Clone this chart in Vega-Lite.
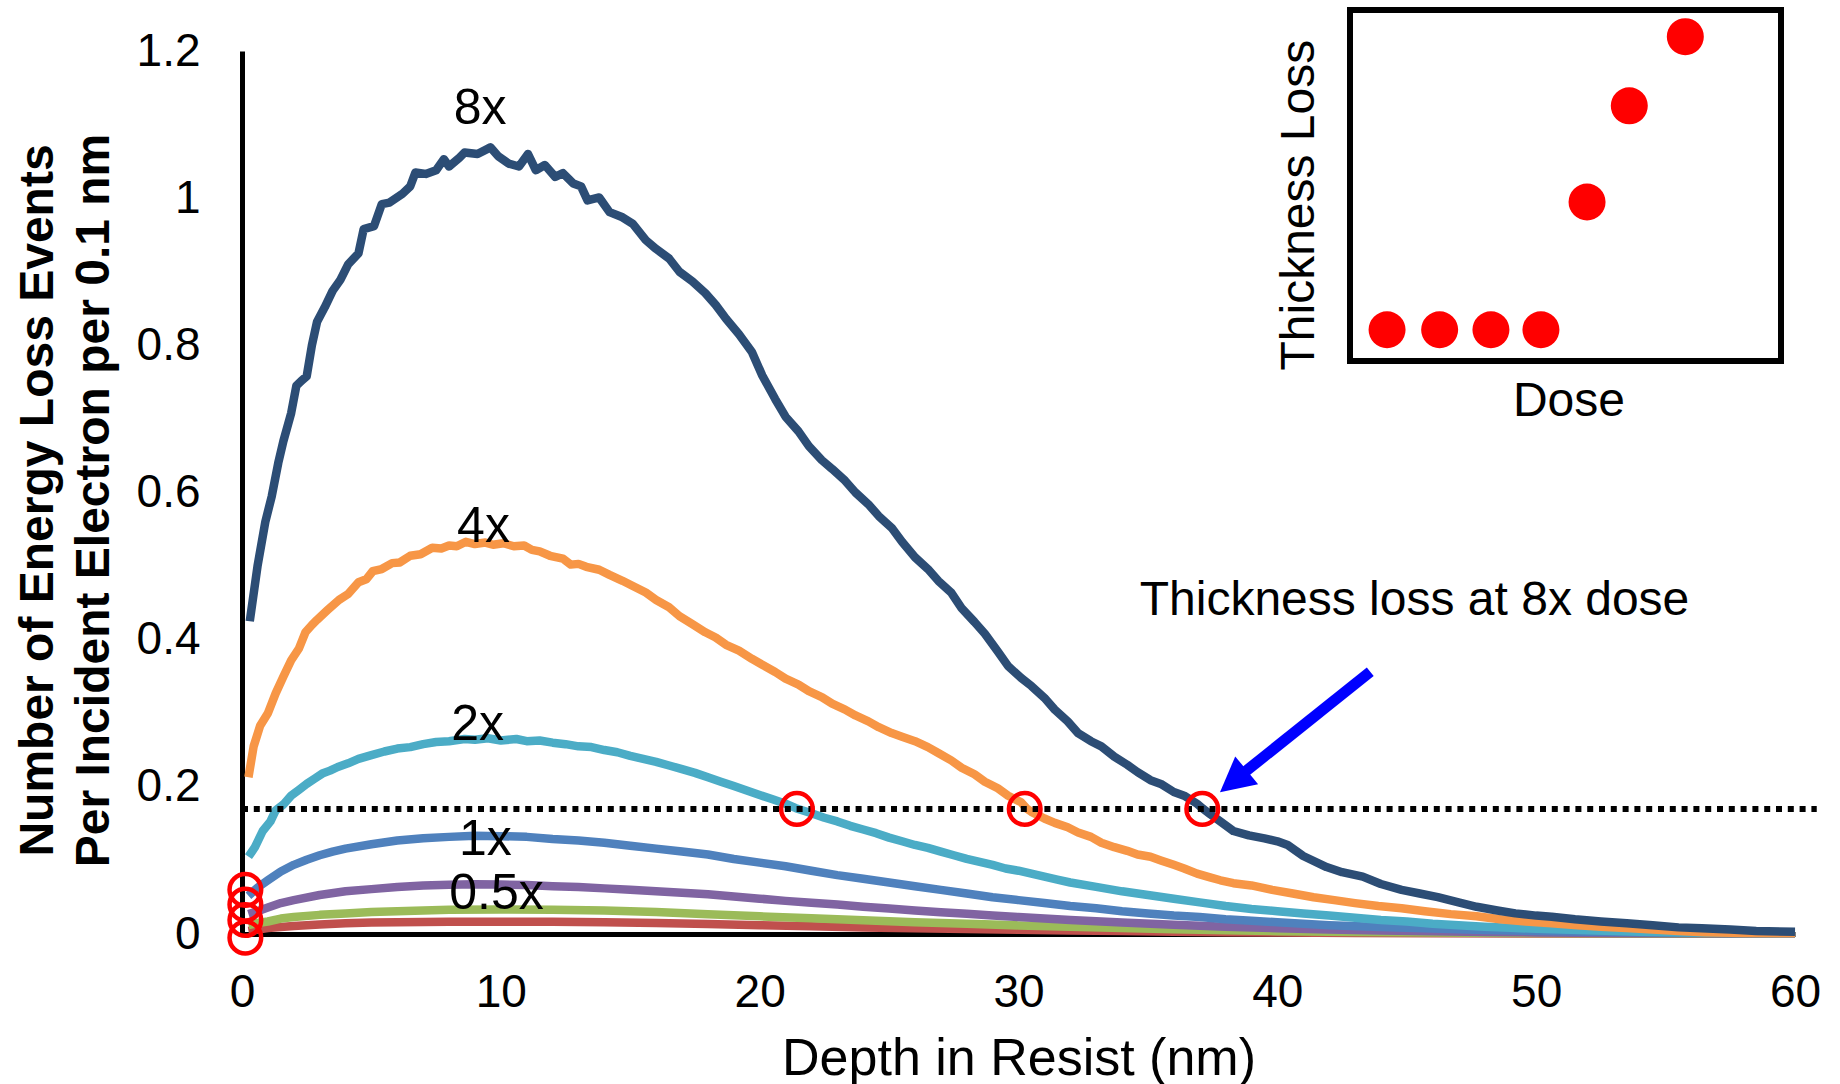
{
  "$schema": "https://vega.github.io/schema/vega-lite/v6.json",
  "width": 1553,
  "height": 883,
  "autosize": {"type": "none"},
  "padding": {"left": 242, "top": 51, "right": 45, "bottom": 150},
  "background": "#ffffff",
  "config": {"view": {"stroke": null}, "font": "Liberation Sans"},
  "datasets": {
    "curves": [
      {"series": "0.125x", "depth": 0.25, "events": 0.004}, {"series": "0.125x", "depth": 0.6, "events": 0.006}, {"series": "0.125x", "depth": 1, "events": 0.008}, {"series": "0.125x", "depth": 1.5, "events": 0.0095}, {"series": "0.125x", "depth": 2, "events": 0.011}, {"series": "0.125x", "depth": 3, "events": 0.013}, {"series": "0.125x", "depth": 4, "events": 0.0145}, {"series": "0.125x", "depth": 5, "events": 0.0155}, {"series": "0.125x", "depth": 6, "events": 0.016}, {"series": "0.125x", "depth": 8, "events": 0.0166}, {"series": "0.125x", "depth": 10, "events": 0.0167}, {"series": "0.125x", "depth": 12, "events": 0.0166}, {"series": "0.125x", "depth": 14, "events": 0.016}, {"series": "0.125x", "depth": 16, "events": 0.0148}, {"series": "0.125x", "depth": 18, "events": 0.0135}, {"series": "0.125x", "depth": 20, "events": 0.012}, {"series": "0.125x", "depth": 22, "events": 0.0105}, {"series": "0.125x", "depth": 24, "events": 0.009}, {"series": "0.125x", "depth": 26, "events": 0.0079}, {"series": "0.125x", "depth": 28, "events": 0.0068}, {"series": "0.125x", "depth": 30, "events": 0.0058}, {"series": "0.125x", "depth": 32, "events": 0.0048}, {"series": "0.125x", "depth": 34, "events": 0.004}, {"series": "0.125x", "depth": 36, "events": 0.0032}, {"series": "0.125x", "depth": 38, "events": 0.0025}, {"series": "0.125x", "depth": 40, "events": 0.0019}, {"series": "0.125x", "depth": 43, "events": 0.0014}, {"series": "0.125x", "depth": 46, "events": 0.001}, {"series": "0.125x", "depth": 50, "events": 0.0006}, {"series": "0.125x", "depth": 55, "events": 0.0003}, {"series": "0.125x", "depth": 60, "events": 0.0002},

      {"series": "0.25x", "depth": 0.25, "events": 0.012}, {"series": "0.25x", "depth": 0.6, "events": 0.015}, {"series": "0.25x", "depth": 1, "events": 0.017}, {"series": "0.25x", "depth": 1.5, "events": 0.021}, {"series": "0.25x", "depth": 2, "events": 0.023}, {"series": "0.25x", "depth": 3, "events": 0.026}, {"series": "0.25x", "depth": 4, "events": 0.028}, {"series": "0.25x", "depth": 5, "events": 0.03}, {"series": "0.25x", "depth": 6, "events": 0.031}, {"series": "0.25x", "depth": 8, "events": 0.033}, {"series": "0.25x", "depth": 10, "events": 0.0333}, {"series": "0.25x", "depth": 12, "events": 0.0328}, {"series": "0.25x", "depth": 14, "events": 0.032}, {"series": "0.25x", "depth": 16, "events": 0.03}, {"series": "0.25x", "depth": 18, "events": 0.027}, {"series": "0.25x", "depth": 20, "events": 0.024}, {"series": "0.25x", "depth": 22, "events": 0.0213}, {"series": "0.25x", "depth": 24, "events": 0.0186}, {"series": "0.25x", "depth": 26, "events": 0.016}, {"series": "0.25x", "depth": 28, "events": 0.0138}, {"series": "0.25x", "depth": 30, "events": 0.0117}, {"series": "0.25x", "depth": 32, "events": 0.0097}, {"series": "0.25x", "depth": 34, "events": 0.008}, {"series": "0.25x", "depth": 36, "events": 0.0064}, {"series": "0.25x", "depth": 38, "events": 0.005}, {"series": "0.25x", "depth": 40, "events": 0.0039}, {"series": "0.25x", "depth": 43, "events": 0.0028}, {"series": "0.25x", "depth": 46, "events": 0.002}, {"series": "0.25x", "depth": 50, "events": 0.0012}, {"series": "0.25x", "depth": 55, "events": 0.0006}, {"series": "0.25x", "depth": 60, "events": 0.0003},

      {"series": "0.5x", "depth": 0.25, "events": 0.027}, {"series": "0.5x", "depth": 0.6, "events": 0.031}, {"series": "0.5x", "depth": 1, "events": 0.036}, {"series": "0.5x", "depth": 1.5, "events": 0.042}, {"series": "0.5x", "depth": 2, "events": 0.046}, {"series": "0.5x", "depth": 3, "events": 0.053}, {"series": "0.5x", "depth": 4, "events": 0.058}, {"series": "0.5x", "depth": 5, "events": 0.061}, {"series": "0.5x", "depth": 6, "events": 0.064}, {"series": "0.5x", "depth": 7, "events": 0.066}, {"series": "0.5x", "depth": 8, "events": 0.067}, {"series": "0.5x", "depth": 9, "events": 0.0675}, {"series": "0.5x", "depth": 10, "events": 0.0672}, {"series": "0.5x", "depth": 11, "events": 0.0665}, {"series": "0.5x", "depth": 12, "events": 0.065}, {"series": "0.5x", "depth": 13, "events": 0.064}, {"series": "0.5x", "depth": 14, "events": 0.062}, {"series": "0.5x", "depth": 15, "events": 0.06}, {"series": "0.5x", "depth": 16, "events": 0.058}, {"series": "0.5x", "depth": 17, "events": 0.056}, {"series": "0.5x", "depth": 18, "events": 0.054}, {"series": "0.5x", "depth": 19, "events": 0.051}, {"series": "0.5x", "depth": 20, "events": 0.048}, {"series": "0.5x", "depth": 21, "events": 0.045}, {"series": "0.5x", "depth": 22, "events": 0.0425}, {"series": "0.5x", "depth": 23, "events": 0.04}, {"series": "0.5x", "depth": 24, "events": 0.037}, {"series": "0.5x", "depth": 25, "events": 0.0345}, {"series": "0.5x", "depth": 26, "events": 0.032}, {"series": "0.5x", "depth": 27, "events": 0.0295}, {"series": "0.5x", "depth": 28, "events": 0.0275}, {"series": "0.5x", "depth": 29, "events": 0.025}, {"series": "0.5x", "depth": 30, "events": 0.023}, {"series": "0.5x", "depth": 32, "events": 0.019}, {"series": "0.5x", "depth": 34, "events": 0.0155}, {"series": "0.5x", "depth": 36, "events": 0.0125}, {"series": "0.5x", "depth": 38, "events": 0.0097}, {"series": "0.5x", "depth": 40, "events": 0.0078}, {"series": "0.5x", "depth": 42, "events": 0.006}, {"series": "0.5x", "depth": 44, "events": 0.0047}, {"series": "0.5x", "depth": 46, "events": 0.0037}, {"series": "0.5x", "depth": 48, "events": 0.0028}, {"series": "0.5x", "depth": 50, "events": 0.0021}, {"series": "0.5x", "depth": 53, "events": 0.0014}, {"series": "0.5x", "depth": 56, "events": 0.0009}, {"series": "0.5x", "depth": 60, "events": 0.0005},

      {"series": "1x", "depth": 0.25, "events": 0.052}, {"series": "1x", "depth": 0.6, "events": 0.063}, {"series": "1x", "depth": 1, "events": 0.073}, {"series": "1x", "depth": 1.5, "events": 0.085}, {"series": "1x", "depth": 2, "events": 0.094}, {"series": "1x", "depth": 2.5, "events": 0.101}, {"series": "1x", "depth": 3, "events": 0.107}, {"series": "1x", "depth": 3.5, "events": 0.112}, {"series": "1x", "depth": 4, "events": 0.116}, {"series": "1x", "depth": 5, "events": 0.122}, {"series": "1x", "depth": 6, "events": 0.127}, {"series": "1x", "depth": 7, "events": 0.13}, {"series": "1x", "depth": 8, "events": 0.132}, {"series": "1x", "depth": 9, "events": 0.1335}, {"series": "1x", "depth": 10, "events": 0.133}, {"series": "1x", "depth": 11, "events": 0.132}, {"series": "1x", "depth": 12, "events": 0.129}, {"series": "1x", "depth": 13, "events": 0.127}, {"series": "1x", "depth": 14, "events": 0.124}, {"series": "1x", "depth": 15, "events": 0.12}, {"series": "1x", "depth": 16, "events": 0.116}, {"series": "1x", "depth": 17, "events": 0.112}, {"series": "1x", "depth": 18, "events": 0.108}, {"series": "1x", "depth": 19, "events": 0.102}, {"series": "1x", "depth": 20, "events": 0.097}, {"series": "1x", "depth": 21, "events": 0.092}, {"series": "1x", "depth": 22, "events": 0.086}, {"series": "1x", "depth": 23, "events": 0.08}, {"series": "1x", "depth": 24, "events": 0.075}, {"series": "1x", "depth": 25, "events": 0.07}, {"series": "1x", "depth": 26, "events": 0.065}, {"series": "1x", "depth": 27, "events": 0.06}, {"series": "1x", "depth": 28, "events": 0.055}, {"series": "1x", "depth": 29, "events": 0.05}, {"series": "1x", "depth": 30, "events": 0.046}, {"series": "1x", "depth": 31, "events": 0.042}, {"series": "1x", "depth": 32, "events": 0.038}, {"series": "1x", "depth": 33, "events": 0.035}, {"series": "1x", "depth": 34, "events": 0.031}, {"series": "1x", "depth": 35, "events": 0.028}, {"series": "1x", "depth": 36, "events": 0.025}, {"series": "1x", "depth": 37, "events": 0.023}, {"series": "1x", "depth": 38, "events": 0.02}, {"series": "1x", "depth": 39, "events": 0.018}, {"series": "1x", "depth": 40, "events": 0.016}, {"series": "1x", "depth": 42, "events": 0.012}, {"series": "1x", "depth": 44, "events": 0.0095}, {"series": "1x", "depth": 46, "events": 0.0075}, {"series": "1x", "depth": 48, "events": 0.0055}, {"series": "1x", "depth": 50, "events": 0.0042}, {"series": "1x", "depth": 52, "events": 0.003}, {"series": "1x", "depth": 55, "events": 0.002}, {"series": "1x", "depth": 58, "events": 0.0012}, {"series": "1x", "depth": 60, "events": 0.001},

      {"series": "2x", "depth": 0.25, "events": 0.105}, {"series": "2x", "depth": 0.5, "events": 0.118}, {"series": "2x", "depth": 0.8, "events": 0.14}, {"series": "2x", "depth": 1.1, "events": 0.153}, {"series": "2x", "depth": 1.3, "events": 0.168}, {"series": "2x", "depth": 1.6, "events": 0.176}, {"series": "2x", "depth": 1.9, "events": 0.188}, {"series": "2x", "depth": 2.2, "events": 0.196}, {"series": "2x", "depth": 2.5, "events": 0.204}, {"series": "2x", "depth": 2.8, "events": 0.211}, {"series": "2x", "depth": 3.1, "events": 0.218}, {"series": "2x", "depth": 3.4, "events": 0.222}, {"series": "2x", "depth": 3.7, "events": 0.227}, {"series": "2x", "depth": 4.1, "events": 0.232}, {"series": "2x", "depth": 4.5, "events": 0.238}, {"series": "2x", "depth": 5, "events": 0.243}, {"series": "2x", "depth": 5.5, "events": 0.248}, {"series": "2x", "depth": 6, "events": 0.252}, {"series": "2x", "depth": 6.5, "events": 0.254}, {"series": "2x", "depth": 7, "events": 0.258}, {"series": "2x", "depth": 7.5, "events": 0.261}, {"series": "2x", "depth": 8, "events": 0.262}, {"series": "2x", "depth": 8.6, "events": 0.265}, {"series": "2x", "depth": 9, "events": 0.264}, {"series": "2x", "depth": 9.5, "events": 0.266}, {"series": "2x", "depth": 10, "events": 0.263}, {"series": "2x", "depth": 10.6, "events": 0.265}, {"series": "2x", "depth": 11, "events": 0.262}, {"series": "2x", "depth": 11.5, "events": 0.263}, {"series": "2x", "depth": 12, "events": 0.26}, {"series": "2x", "depth": 12.5, "events": 0.258}, {"series": "2x", "depth": 13, "events": 0.255}, {"series": "2x", "depth": 13.5, "events": 0.254}, {"series": "2x", "depth": 14, "events": 0.25}, {"series": "2x", "depth": 14.5, "events": 0.247}, {"series": "2x", "depth": 15, "events": 0.242}, {"series": "2x", "depth": 15.5, "events": 0.238}, {"series": "2x", "depth": 16, "events": 0.234}, {"series": "2x", "depth": 16.5, "events": 0.229}, {"series": "2x", "depth": 17, "events": 0.224}, {"series": "2x", "depth": 17.5, "events": 0.219}, {"series": "2x", "depth": 18, "events": 0.213}, {"series": "2x", "depth": 18.5, "events": 0.207}, {"series": "2x", "depth": 19, "events": 0.201}, {"series": "2x", "depth": 19.5, "events": 0.195}, {"series": "2x", "depth": 20, "events": 0.189}, {"series": "2x", "depth": 20.5, "events": 0.183}, {"series": "2x", "depth": 21, "events": 0.177}, {"series": "2x", "depth": 21.4, "events": 0.171}, {"series": "2x", "depth": 22, "events": 0.164}, {"series": "2x", "depth": 22.5, "events": 0.158}, {"series": "2x", "depth": 23, "events": 0.153}, {"series": "2x", "depth": 23.5, "events": 0.147}, {"series": "2x", "depth": 24, "events": 0.142}, {"series": "2x", "depth": 24.5, "events": 0.137}, {"series": "2x", "depth": 25, "events": 0.131}, {"series": "2x", "depth": 25.5, "events": 0.126}, {"series": "2x", "depth": 26, "events": 0.121}, {"series": "2x", "depth": 26.5, "events": 0.117}, {"series": "2x", "depth": 27, "events": 0.112}, {"series": "2x", "depth": 27.5, "events": 0.107}, {"series": "2x", "depth": 28, "events": 0.102}, {"series": "2x", "depth": 28.5, "events": 0.098}, {"series": "2x", "depth": 29, "events": 0.094}, {"series": "2x", "depth": 29.5, "events": 0.089}, {"series": "2x", "depth": 30, "events": 0.086}, {"series": "2x", "depth": 30.5, "events": 0.082}, {"series": "2x", "depth": 31, "events": 0.078}, {"series": "2x", "depth": 31.5, "events": 0.074}, {"series": "2x", "depth": 32, "events": 0.07}, {"series": "2x", "depth": 33, "events": 0.064}, {"series": "2x", "depth": 34, "events": 0.058}, {"series": "2x", "depth": 35, "events": 0.053}, {"series": "2x", "depth": 36, "events": 0.048}, {"series": "2x", "depth": 37, "events": 0.043}, {"series": "2x", "depth": 38, "events": 0.038}, {"series": "2x", "depth": 39, "events": 0.034}, {"series": "2x", "depth": 40, "events": 0.031}, {"series": "2x", "depth": 41, "events": 0.028}, {"series": "2x", "depth": 42, "events": 0.025}, {"series": "2x", "depth": 43, "events": 0.022}, {"series": "2x", "depth": 44, "events": 0.019}, {"series": "2x", "depth": 45, "events": 0.017}, {"series": "2x", "depth": 46, "events": 0.014}, {"series": "2x", "depth": 47, "events": 0.012}, {"series": "2x", "depth": 48, "events": 0.01}, {"series": "2x", "depth": 49, "events": 0.0085}, {"series": "2x", "depth": 50, "events": 0.007}, {"series": "2x", "depth": 52, "events": 0.005}, {"series": "2x", "depth": 54, "events": 0.003}, {"series": "2x", "depth": 56, "events": 0.002}, {"series": "2x", "depth": 58, "events": 0.0013}, {"series": "2x", "depth": 60, "events": 0.001},

      {"series": "4x", "depth": 0.25, "events": 0.213}, {"series": "4x", "depth": 0.45, "events": 0.255}, {"series": "4x", "depth": 0.7, "events": 0.283}, {"series": "4x", "depth": 1, "events": 0.3}, {"series": "4x", "depth": 1.3, "events": 0.327}, {"series": "4x", "depth": 1.6, "events": 0.35}, {"series": "4x", "depth": 1.9, "events": 0.372}, {"series": "4x", "depth": 2.2, "events": 0.388}, {"series": "4x", "depth": 2.45, "events": 0.41}, {"series": "4x", "depth": 2.7, "events": 0.42}, {"series": "4x", "depth": 2.9, "events": 0.427}, {"series": "4x", "depth": 3.3, "events": 0.44}, {"series": "4x", "depth": 3.75, "events": 0.454}, {"series": "4x", "depth": 4.1, "events": 0.462}, {"series": "4x", "depth": 4.5, "events": 0.478}, {"series": "4x", "depth": 4.8, "events": 0.482}, {"series": "4x", "depth": 5.05, "events": 0.493}, {"series": "4x", "depth": 5.4, "events": 0.496}, {"series": "4x", "depth": 5.8, "events": 0.504}, {"series": "4x", "depth": 6.1, "events": 0.505}, {"series": "4x", "depth": 6.5, "events": 0.514}, {"series": "4x", "depth": 6.9, "events": 0.516}, {"series": "4x", "depth": 7.35, "events": 0.525}, {"series": "4x", "depth": 7.7, "events": 0.524}, {"series": "4x", "depth": 8, "events": 0.528}, {"series": "4x", "depth": 8.3, "events": 0.527}, {"series": "4x", "depth": 8.65, "events": 0.533}, {"series": "4x", "depth": 9, "events": 0.53}, {"series": "4x", "depth": 9.4, "events": 0.532}, {"series": "4x", "depth": 9.7, "events": 0.529}, {"series": "4x", "depth": 10.1, "events": 0.531}, {"series": "4x", "depth": 10.5, "events": 0.527}, {"series": "4x", "depth": 10.9, "events": 0.528}, {"series": "4x", "depth": 11.2, "events": 0.522}, {"series": "4x", "depth": 11.5, "events": 0.52}, {"series": "4x", "depth": 11.9, "events": 0.514}, {"series": "4x", "depth": 12.4, "events": 0.51}, {"series": "4x", "depth": 12.7, "events": 0.502}, {"series": "4x", "depth": 13, "events": 0.503}, {"series": "4x", "depth": 13.3, "events": 0.499}, {"series": "4x", "depth": 13.8, "events": 0.495}, {"series": "4x", "depth": 14.2, "events": 0.488}, {"series": "4x", "depth": 14.7, "events": 0.48}, {"series": "4x", "depth": 15.1, "events": 0.473}, {"series": "4x", "depth": 15.6, "events": 0.464}, {"series": "4x", "depth": 16, "events": 0.454}, {"series": "4x", "depth": 16.5, "events": 0.444}, {"series": "4x", "depth": 16.9, "events": 0.432}, {"series": "4x", "depth": 17.4, "events": 0.421}, {"series": "4x", "depth": 17.9, "events": 0.41}, {"series": "4x", "depth": 18.3, "events": 0.403}, {"series": "4x", "depth": 18.7, "events": 0.393}, {"series": "4x", "depth": 19.2, "events": 0.385}, {"series": "4x", "depth": 19.7, "events": 0.374}, {"series": "4x", "depth": 20.1, "events": 0.366}, {"series": "4x", "depth": 20.6, "events": 0.356}, {"series": "4x", "depth": 21, "events": 0.347}, {"series": "4x", "depth": 21.5, "events": 0.339}, {"series": "4x", "depth": 21.9, "events": 0.33}, {"series": "4x", "depth": 22.4, "events": 0.322}, {"series": "4x", "depth": 22.8, "events": 0.313}, {"series": "4x", "depth": 23.3, "events": 0.305}, {"series": "4x", "depth": 23.7, "events": 0.297}, {"series": "4x", "depth": 24.2, "events": 0.289}, {"series": "4x", "depth": 24.6, "events": 0.281}, {"series": "4x", "depth": 25.1, "events": 0.273}, {"series": "4x", "depth": 25.5, "events": 0.268}, {"series": "4x", "depth": 26, "events": 0.262}, {"series": "4x", "depth": 26.5, "events": 0.254}, {"series": "4x", "depth": 26.9, "events": 0.246}, {"series": "4x", "depth": 27.4, "events": 0.236}, {"series": "4x", "depth": 27.8, "events": 0.226}, {"series": "4x", "depth": 28.3, "events": 0.217}, {"series": "4x", "depth": 28.7, "events": 0.207}, {"series": "4x", "depth": 29.2, "events": 0.198}, {"series": "4x", "depth": 29.6, "events": 0.188}, {"series": "4x", "depth": 30.1, "events": 0.179}, {"series": "4x", "depth": 30.3, "events": 0.171}, {"series": "4x", "depth": 30.5, "events": 0.166}, {"series": "4x", "depth": 31, "events": 0.157}, {"series": "4x", "depth": 31.4, "events": 0.151}, {"series": "4x", "depth": 31.9, "events": 0.145}, {"series": "4x", "depth": 32.3, "events": 0.138}, {"series": "4x", "depth": 32.8, "events": 0.132}, {"series": "4x", "depth": 33.2, "events": 0.124}, {"series": "4x", "depth": 33.7, "events": 0.118}, {"series": "4x", "depth": 34.2, "events": 0.113}, {"series": "4x", "depth": 34.6, "events": 0.108}, {"series": "4x", "depth": 35.1, "events": 0.105}, {"series": "4x", "depth": 35.5, "events": 0.1}, {"series": "4x", "depth": 36, "events": 0.094}, {"series": "4x", "depth": 36.4, "events": 0.089}, {"series": "4x", "depth": 36.9, "events": 0.082}, {"series": "4x", "depth": 37.4, "events": 0.077}, {"series": "4x", "depth": 37.8, "events": 0.073}, {"series": "4x", "depth": 38.3, "events": 0.069}, {"series": "4x", "depth": 39, "events": 0.066}, {"series": "4x", "depth": 39.8, "events": 0.06}, {"series": "4x", "depth": 40.6, "events": 0.055}, {"series": "4x", "depth": 41.4, "events": 0.05}, {"series": "4x", "depth": 42.2, "events": 0.046}, {"series": "4x", "depth": 43, "events": 0.042}, {"series": "4x", "depth": 43.9, "events": 0.038}, {"series": "4x", "depth": 44.8, "events": 0.035}, {"series": "4x", "depth": 45.7, "events": 0.031}, {"series": "4x", "depth": 46.7, "events": 0.027}, {"series": "4x", "depth": 47.7, "events": 0.024}, {"series": "4x", "depth": 48.6, "events": 0.02}, {"series": "4x", "depth": 49.6, "events": 0.017}, {"series": "4x", "depth": 50.6, "events": 0.0145}, {"series": "4x", "depth": 51.6, "events": 0.012}, {"series": "4x", "depth": 52.5, "events": 0.01}, {"series": "4x", "depth": 53.5, "events": 0.008}, {"series": "4x", "depth": 54.5, "events": 0.006}, {"series": "4x", "depth": 55.5, "events": 0.004}, {"series": "4x", "depth": 56.5, "events": 0.0025}, {"series": "4x", "depth": 58, "events": 0.0015}, {"series": "4x", "depth": 60, "events": 0.001},

      {"series": "8x", "depth": 0.3, "events": 0.425}, {"series": "8x", "depth": 0.6, "events": 0.5}, {"series": "8x", "depth": 0.9, "events": 0.56}, {"series": "8x", "depth": 1.15, "events": 0.595}, {"series": "8x", "depth": 1.4, "events": 0.64}, {"series": "8x", "depth": 1.6, "events": 0.67}, {"series": "8x", "depth": 1.9, "events": 0.708}, {"series": "8x", "depth": 2.1, "events": 0.745}, {"series": "8x", "depth": 2.3, "events": 0.752}, {"series": "8x", "depth": 2.5, "events": 0.758}, {"series": "8x", "depth": 2.7, "events": 0.8}, {"series": "8x", "depth": 2.9, "events": 0.832}, {"series": "8x", "depth": 3.2, "events": 0.852}, {"series": "8x", "depth": 3.5, "events": 0.874}, {"series": "8x", "depth": 3.8, "events": 0.889}, {"series": "8x", "depth": 4.1, "events": 0.91}, {"series": "8x", "depth": 4.5, "events": 0.925}, {"series": "8x", "depth": 4.7, "events": 0.958}, {"series": "8x", "depth": 5.1, "events": 0.962}, {"series": "8x", "depth": 5.4, "events": 0.992}, {"series": "8x", "depth": 5.7, "events": 0.994}, {"series": "8x", "depth": 6.2, "events": 1.006}, {"series": "8x", "depth": 6.5, "events": 1.016}, {"series": "8x", "depth": 6.7, "events": 1.035}, {"series": "8x", "depth": 7.1, "events": 1.033}, {"series": "8x", "depth": 7.5, "events": 1.038}, {"series": "8x", "depth": 7.8, "events": 1.053}, {"series": "8x", "depth": 8, "events": 1.043}, {"series": "8x", "depth": 8.4, "events": 1.055}, {"series": "8x", "depth": 8.6, "events": 1.062}, {"series": "8x", "depth": 9.1, "events": 1.06}, {"series": "8x", "depth": 9.6, "events": 1.069}, {"series": "8x", "depth": 9.9, "events": 1.057}, {"series": "8x", "depth": 10.3, "events": 1.047}, {"series": "8x", "depth": 10.7, "events": 1.043}, {"series": "8x", "depth": 11.05, "events": 1.06}, {"series": "8x", "depth": 11.35, "events": 1.038}, {"series": "8x", "depth": 11.7, "events": 1.045}, {"series": "8x", "depth": 12.1, "events": 1.029}, {"series": "8x", "depth": 12.4, "events": 1.034}, {"series": "8x", "depth": 12.8, "events": 1.02}, {"series": "8x", "depth": 13.1, "events": 1.016}, {"series": "8x", "depth": 13.35, "events": 0.997}, {"series": "8x", "depth": 13.8, "events": 1.001}, {"series": "8x", "depth": 14.2, "events": 0.981}, {"series": "8x", "depth": 14.7, "events": 0.974}, {"series": "8x", "depth": 15.1, "events": 0.965}, {"series": "8x", "depth": 15.6, "events": 0.943}, {"series": "8x", "depth": 16, "events": 0.931}, {"series": "8x", "depth": 16.5, "events": 0.918}, {"series": "8x", "depth": 16.9, "events": 0.9}, {"series": "8x", "depth": 17.4, "events": 0.887}, {"series": "8x", "depth": 17.9, "events": 0.871}, {"series": "8x", "depth": 18.3, "events": 0.855}, {"series": "8x", "depth": 18.7, "events": 0.836}, {"series": "8x", "depth": 19.2, "events": 0.815}, {"series": "8x", "depth": 19.7, "events": 0.791}, {"series": "8x", "depth": 20.1, "events": 0.759}, {"series": "8x", "depth": 20.6, "events": 0.727}, {"series": "8x", "depth": 21, "events": 0.703}, {"series": "8x", "depth": 21.5, "events": 0.683}, {"series": "8x", "depth": 21.9, "events": 0.663}, {"series": "8x", "depth": 22.4, "events": 0.644}, {"series": "8x", "depth": 22.8, "events": 0.632}, {"series": "8x", "depth": 23.3, "events": 0.616}, {"series": "8x", "depth": 23.7, "events": 0.6}, {"series": "8x", "depth": 24.2, "events": 0.584}, {"series": "8x", "depth": 24.6, "events": 0.568}, {"series": "8x", "depth": 25.1, "events": 0.552}, {"series": "8x", "depth": 25.5, "events": 0.533}, {"series": "8x", "depth": 26, "events": 0.512}, {"series": "8x", "depth": 26.5, "events": 0.496}, {"series": "8x", "depth": 26.9, "events": 0.48}, {"series": "8x", "depth": 27.4, "events": 0.464}, {"series": "8x", "depth": 27.8, "events": 0.443}, {"series": "8x", "depth": 28.3, "events": 0.424}, {"series": "8x", "depth": 28.7, "events": 0.408}, {"series": "8x", "depth": 29.2, "events": 0.384}, {"series": "8x", "depth": 29.6, "events": 0.364}, {"series": "8x", "depth": 30.1, "events": 0.348}, {"series": "8x", "depth": 30.5, "events": 0.337}, {"series": "8x", "depth": 31, "events": 0.321}, {"series": "8x", "depth": 31.4, "events": 0.305}, {"series": "8x", "depth": 31.9, "events": 0.289}, {"series": "8x", "depth": 32.3, "events": 0.273}, {"series": "8x", "depth": 32.8, "events": 0.262}, {"series": "8x", "depth": 33.2, "events": 0.255}, {"series": "8x", "depth": 33.7, "events": 0.241}, {"series": "8x", "depth": 34.2, "events": 0.23}, {"series": "8x", "depth": 34.6, "events": 0.22}, {"series": "8x", "depth": 35.1, "events": 0.209}, {"series": "8x", "depth": 35.5, "events": 0.204}, {"series": "8x", "depth": 36, "events": 0.193}, {"series": "8x", "depth": 36.4, "events": 0.188}, {"series": "8x", "depth": 36.9, "events": 0.177}, {"series": "8x", "depth": 37.1, "events": 0.171}, {"series": "8x", "depth": 37.4, "events": 0.163}, {"series": "8x", "depth": 37.8, "events": 0.153}, {"series": "8x", "depth": 38.3, "events": 0.14}, {"series": "8x", "depth": 38.9, "events": 0.134}, {"series": "8x", "depth": 39.5, "events": 0.13}, {"series": "8x", "depth": 40, "events": 0.126}, {"series": "8x", "depth": 40.4, "events": 0.121}, {"series": "8x", "depth": 41, "events": 0.106}, {"series": "8x", "depth": 41.9, "events": 0.091}, {"series": "8x", "depth": 42.5, "events": 0.084}, {"series": "8x", "depth": 43.3, "events": 0.078}, {"series": "8x", "depth": 44, "events": 0.068}, {"series": "8x", "depth": 44.8, "events": 0.06}, {"series": "8x", "depth": 45.5, "events": 0.055}, {"series": "8x", "depth": 46.2, "events": 0.05}, {"series": "8x", "depth": 47, "events": 0.043}, {"series": "8x", "depth": 47.7, "events": 0.037}, {"series": "8x", "depth": 48.5, "events": 0.032}, {"series": "8x", "depth": 49.2, "events": 0.028}, {"series": "8x", "depth": 50, "events": 0.025}, {"series": "8x", "depth": 50.6, "events": 0.0235}, {"series": "8x", "depth": 51.5, "events": 0.02}, {"series": "8x", "depth": 52.5, "events": 0.017}, {"series": "8x", "depth": 53.5, "events": 0.0145}, {"series": "8x", "depth": 54.5, "events": 0.012}, {"series": "8x", "depth": 55.5, "events": 0.009}, {"series": "8x", "depth": 56.4, "events": 0.0077}, {"series": "8x", "depth": 57.5, "events": 0.006}, {"series": "8x", "depth": 58.5, "events": 0.004}, {"series": "8x", "depth": 60, "events": 0.003}
    ],
    "curveLabels": [
      {"series": "8x", "depth": 9.2, "events": 1.121},
      {"series": "4x", "depth": 9.33, "events": 0.553},
      {"series": "2x", "depth": 9.1, "events": 0.284},
      {"series": "1x", "depth": 9.4, "events": 0.128},
      {"series": "0.5x", "depth": 9.83, "events": 0.054}
    ],
    "markers": [
      {"depth": 0.13, "events": 0.06},
      {"depth": 0.13, "events": 0.04},
      {"depth": 0.13, "events": 0.019},
      {"depth": 0.13, "events": -0.005},
      {"depth": 21.44, "events": 0.17},
      {"depth": 30.24, "events": 0.17},
      {"depth": 37.1, "events": 0.17}
    ],
    "threshold": [{"events": 0.17}],
    "arrow": [{"depth": 43.59, "events": 0.3565, "depth_end": 38.55, "events_end": 0.2147}],
    "arrowHead": [{"depth": 38.3, "events": 0.2075}],
    "inset": [
      {"dose": 8.6, "thickness_loss": 8.9},
      {"dose": 20.8, "thickness_loss": 8.9},
      {"dose": 32.7, "thickness_loss": 8.9},
      {"dose": 44.3, "thickness_loss": 8.9},
      {"dose": 55.0, "thickness_loss": 45.3},
      {"dose": 64.8, "thickness_loss": 72.7},
      {"dose": 77.8, "thickness_loss": 92.4}
    ]
  },
  "layer": [
    {
      "data": {"name": "curves"},
      "mark": {"type": "line", "strokeWidth": 8.5, "strokeJoin": "round", "strokeCap": "butt"},
      "encoding": {
        "x": {
          "field": "depth", "type": "quantitative",
          "scale": {"domain": [0, 60], "nice": false, "zero": false},
          "axis": {
            "title": "Depth in Resist (nm)",
            "values": [0, 10, 20, 30, 40, 50, 60],
            "ticks": false, "grid": false,
            "domainColor": "#000000", "domainWidth": 5,
            "labelFont": "Liberation Sans", "labelFontSize": 46, "labelColor": "#000000",
            "labelPadding": 36, "labelFlush": false, "labelOverlap": false,
            "titleFont": "Liberation Sans", "titleFontSize": 52, "titleFontWeight": "normal", "titleColor": "#000000",
            "titleBaseline": "alphabetic", "titleX": 776.5, "titleY": 140
          }
        },
        "y": {
          "field": "events", "type": "quantitative",
          "scale": {"domain": [0, 1.2], "nice": false, "zero": false},
          "axis": {
            "title": ["Number of Energy Loss Events", "Per Incident Electron per 0.1 nm"],
            "values": [0, 0.2, 0.4, 0.6, 0.8, 1, 1.2],
            "format": "~g",
            "ticks": false, "grid": false,
            "domainColor": "#000000", "domainWidth": 5,
            "labelFont": "Liberation Sans", "labelFontSize": 46, "labelColor": "#000000",
            "labelPadding": 42, "labelFlush": false, "labelOverlap": false,
            "titleFont": "Liberation Sans", "titleFontSize": 48, "titleFontWeight": "bold", "titleColor": "#000000",
            "titleAngle": 270, "titleAlign": "center", "titleBaseline": "alphabetic",
            "titleLineHeight": 56.5, "titleX": -190, "titleY": 449
          }
        },
        "color": {
          "field": "series", "type": "nominal",
          "scale": {
            "domain": ["0.125x", "0.25x", "0.5x", "1x", "2x", "4x", "8x"],
            "range": ["#C0504D", "#9BBB59", "#8064A2", "#4F81BD", "#4BACC6", "#F79646", "#2C4D75"]
          },
          "legend": null
        }
      }
    },
    {
      "data": {"name": "threshold"},
      "mark": {"type": "rule", "color": "#000000", "strokeWidth": 6, "strokeDash": [6, 5.8], "strokeCap": "butt"},
      "encoding": {
        "x": {"datum": 0, "type": "quantitative", "scale": {"domain": [0, 60], "nice": false, "zero": false}, "axis": null},
        "x2": {"datum": 60.84},
        "y": {"field": "events", "type": "quantitative", "scale": {"domain": [0, 1.2], "nice": false, "zero": false}, "axis": null}
      }
    },
    {
      "data": {"name": "markers"},
      "mark": {"type": "point", "shape": "circle", "filled": false, "stroke": "#FF0000", "strokeWidth": 4.5, "size": 1000, "opacity": 1},
      "encoding": {
        "x": {"field": "depth", "type": "quantitative", "scale": {"domain": [0, 60], "nice": false, "zero": false}, "axis": null},
        "y": {"field": "events", "type": "quantitative", "scale": {"domain": [0, 1.2], "nice": false, "zero": false}, "axis": null}
      }
    },
    {
      "data": {"name": "curveLabels"},
      "mark": {"type": "text", "font": "Liberation Sans", "fontSize": 50, "color": "#000000", "align": "center", "baseline": "middle"},
      "encoding": {
        "x": {"field": "depth", "type": "quantitative", "scale": {"domain": [0, 60], "nice": false, "zero": false}, "axis": null},
        "y": {"field": "events", "type": "quantitative", "scale": {"domain": [0, 1.2], "nice": false, "zero": false}, "axis": null},
        "text": {"field": "series"}
      }
    },
    {
      "data": {"name": "arrow"},
      "mark": {"type": "rule", "color": "#0000FF", "strokeWidth": 11, "strokeCap": "butt"},
      "encoding": {
        "x": {"field": "depth", "type": "quantitative", "scale": {"domain": [0, 60], "nice": false, "zero": false}, "axis": null},
        "y": {"field": "events", "type": "quantitative", "scale": {"domain": [0, 1.2], "nice": false, "zero": false}, "axis": null},
        "x2": {"field": "depth_end"},
        "y2": {"field": "events_end"}
      }
    },
    {
      "data": {"name": "arrowHead"},
      "mark": {"type": "point", "shape": "M0,-1L1.04,1L-1.04,1Z", "filled": true, "fill": "#0000FF", "strokeWidth": 0, "size": 1197, "angle": 230.5, "opacity": 1},
      "encoding": {
        "x": {"field": "depth", "type": "quantitative", "scale": {"domain": [0, 60], "nice": false, "zero": false}, "axis": null},
        "y": {"field": "events", "type": "quantitative", "scale": {"domain": [0, 1.2], "nice": false, "zero": false}, "axis": null}
      }
    },
    {
      "data": {"values": [{"note": "Thickness loss at 8x dose"}]},
      "mark": {"type": "text", "font": "Liberation Sans", "fontSize": 48, "color": "#000000", "align": "center", "baseline": "middle"},
      "encoding": {
        "x": {"datum": 45.3, "type": "quantitative", "scale": {"domain": [0, 60], "nice": false, "zero": false}, "axis": null},
        "y": {"datum": 0.4526, "type": "quantitative", "scale": {"domain": [0, 1.2], "nice": false, "zero": false}, "axis": null},
        "text": {"field": "note"}
      }
    },
    {
      "data": {"values": [{"frame": "inset"}]},
      "mark": {"type": "rect", "fill": null, "stroke": "#000000", "strokeWidth": 6, "strokeJoin": "miter"},
      "encoding": {
        "x": {"datum": 0, "type": "quantitative", "scale": {"domain": [0, 100], "range": [1108, 1539], "nice": false, "zero": false}, "axis": null},
        "x2": {"datum": 100},
        "y": {"datum": 0, "type": "quantitative", "scale": {"domain": [0, 100], "range": [310, -41], "nice": false, "zero": false}, "axis": null},
        "y2": {"datum": 100}
      }
    },
    {
      "data": {"name": "inset"},
      "mark": {"type": "point", "shape": "circle", "filled": true, "fill": "#FF0000", "strokeWidth": 0, "size": 1370, "opacity": 1},
      "encoding": {
        "x": {"field": "dose", "type": "quantitative", "scale": {"domain": [0, 100], "range": [1108, 1539], "nice": false, "zero": false}, "axis": null},
        "y": {"field": "thickness_loss", "type": "quantitative", "scale": {"domain": [0, 100], "range": [310, -41], "nice": false, "zero": false}, "axis": null}
      }
    },
    {
      "data": {"values": [{"label": "Thickness Loss"}]},
      "mark": {"type": "text", "font": "Liberation Sans", "fontSize": 48, "color": "#000000", "align": "center", "baseline": "middle", "angle": 270},
      "encoding": {
        "x": {"datum": -11.6, "type": "quantitative", "scale": {"domain": [0, 100], "range": [1108, 1539], "nice": false, "zero": false}, "axis": null},
        "y": {"datum": 44.4, "type": "quantitative", "scale": {"domain": [0, 100], "range": [310, -41], "nice": false, "zero": false}, "axis": null},
        "text": {"field": "label"}
      }
    },
    {
      "data": {"values": [{"label": "Dose"}]},
      "mark": {"type": "text", "font": "Liberation Sans", "fontSize": 48, "color": "#000000", "align": "center", "baseline": "middle"},
      "encoding": {
        "x": {"datum": 50.8, "type": "quantitative", "scale": {"domain": [0, 100], "range": [1108, 1539], "nice": false, "zero": false}, "axis": null},
        "y": {"datum": -11.8, "type": "quantitative", "scale": {"domain": [0, 100], "range": [310, -41], "nice": false, "zero": false}, "axis": null},
        "text": {"field": "label"}
      }
    }
  ],
  "resolve": {"scale": {"x": "independent", "y": "independent"}}
}
